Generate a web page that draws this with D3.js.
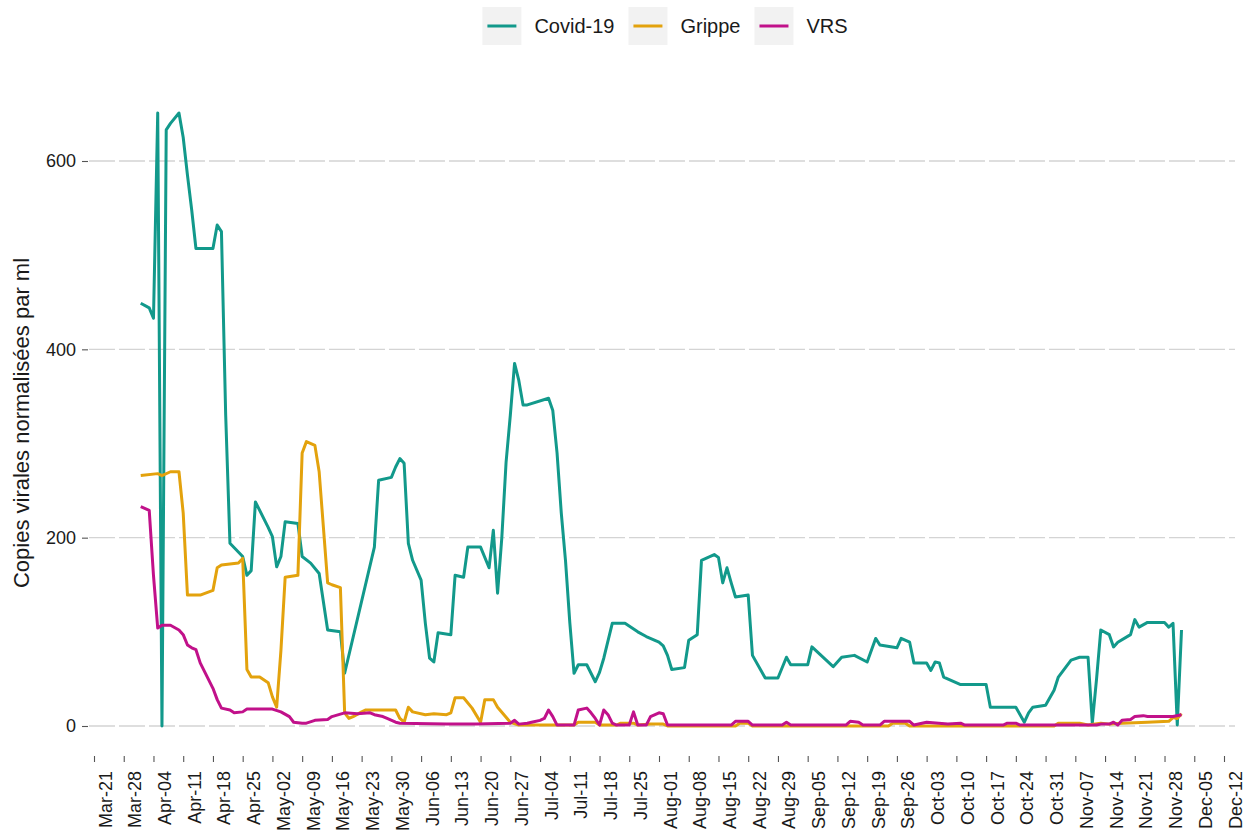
<!DOCTYPE html>
<html lang="fr">
<head>
<meta charset="utf-8">
<title>Copies virales</title>
<script src="https://cdnjs.cloudflare.com/ajax/libs/d3/7.8.5/d3.min.js"></script>
<style>
  body { margin: 0; background: #fff; font-family: "Liberation Sans", Arial, sans-serif; }
  svg { display: block; }
</style>
</head>
<body>
<script>
// valeurs (année 2022, données journalières)
var covid = [["04-01",449],["04-03",444],["04-04",433],["04-05",651],["04-06",0],["04-07",633],["04-08",640],["04-10",651],["04-11",625],["04-12",585],["04-13",548],["04-14",507],["04-18",507],["04-19",532],["04-20",525],["04-21",330],["04-22",194],["04-25",180],["04-26",160],["04-27",165],["04-28",238],["05-01",211],["05-02",201],["05-03",169],["05-04",180],["05-05",217],["05-08",215],["05-09",180],["05-11",173],["05-13",162],["05-15",102],["05-18",100],["05-19",56],["05-26",190],["05-27",261],["05-30",264],["05-31",275],["06-01",284],["06-02",279],["06-03",194],["06-04",176],["06-06",155],["06-07",109],["06-08",72],["06-09",68],["06-10",99],["06-13",97],["06-14",160],["06-16",158],["06-17",190],["06-20",190],["06-22",168],["06-23",208],["06-24",141],["06-25",200],["06-26",280],["06-27",330],["06-28",385],["06-29",367],["06-30",341],["07-01",341],["07-06",348],["07-07",335],["07-08",290],["07-09",226],["07-10",175],["07-11",110],["07-12",56],["07-13",65],["07-15",65],["07-17",47],["07-18",57],["07-19",72],["07-21",109],["07-24",109],["07-27",100],["07-29",95],["08-01",89],["08-02",85],["08-03",75],["08-04",60],["08-07",62],["08-08",91],["08-10",97],["08-11",176],["08-14",182],["08-15",179],["08-16",152],["08-17",168],["08-18",152],["08-19",137],["08-22",139],["08-23",75],["08-26",51],["08-29",51],["08-31",73],["09-01",65],["09-05",65],["09-06",84],["09-11",63],["09-13",73],["09-16",75],["09-19",68],["09-21",93],["09-22",86],["09-26",83],["09-27",93],["09-29",89],["09-30",67],["10-03",67],["10-04",59],["10-05",68],["10-06",67],["10-07",52],["10-11",44],["10-17",44],["10-18",20],["10-24",20],["10-26",4],["10-27",14],["10-28",20],["10-31",22],["11-02",38],["11-03",52],["11-06",70],["11-08",73],["11-10",73],["11-11",3],["11-12",50],["11-13",102],["11-15",97],["11-16",84],["11-17",89],["11-20",97],["11-21",113],["11-22",105],["11-24",110],["11-28",110],["11-29",105],["11-30",109],["12-01",1],["12-02",102]];

var grippe = [["04-01",266],["04-05",268],["04-06",266],["04-08",270],["04-10",270],["04-11",226],["04-12",139],["04-15",139],["04-18",144],["04-19",168],["04-20",171],["04-24",173],["04-25",178],["04-26",60],["04-27",52],["04-29",52],["05-01",46],["05-02",31],["05-03",20],["05-04",80],["05-05",158],["05-08",160],["05-09",290],["05-10",302],["05-12",298],["05-13",270],["05-15",152],["05-16",150],["05-18",147],["05-19",14],["05-20",8],["05-21",10],["05-23",15],["05-24",17],["05-31",17],["06-01",8],["06-02",4],["06-03",20],["06-04",15],["06-07",12],["06-09",13],["06-12",12],["06-13",14],["06-14",30],["06-16",30],["06-18",19],["06-20",4],["06-21",28],["06-23",28],["06-24",20],["06-27",4],["06-29",1],["07-12",1],["07-13",4],["07-17",4],["07-18",1],["07-22",1],["07-23",3],["07-26",3],["07-27",1],["07-30",2],["08-02",2],["08-03",0],["08-19",0],["08-20",3],["08-22",3],["08-23",0],["09-24",0],["09-25",3],["09-28",3],["09-29",0],["11-02",0],["11-03",3],["11-08",3],["11-10",1],["11-13",3],["11-15",2],["11-18",3],["11-24",4],["11-29",5],["11-30",9],["12-01",8],["12-02",13]];

var vrs = [["04-01",233],["04-03",229],["04-04",160],["04-05",104],["04-06",107],["04-08",107],["04-10",102],["04-11",97],["04-12",86],["04-13",83],["04-14",81],["04-15",67],["04-18",40],["04-19",28],["04-20",19],["04-22",17],["04-23",14],["04-25",15],["04-26",18],["05-02",18],["05-04",15],["05-06",10],["05-07",4],["05-09",3],["05-10",3],["05-12",6],["05-15",7],["05-16",10],["05-19",14],["05-22",13],["05-25",14],["05-26",12],["05-28",10],["05-29",8],["05-31",4],["06-01",3],["06-12",2],["06-19",2],["06-27",3],["06-28",6],["06-29",2],["07-01",3],["07-02",4],["07-04",6],["07-05",8],["07-06",17],["07-07",10],["07-08",1],["07-12",1],["07-13",17],["07-15",19],["07-16",14],["07-17",8],["07-18",1],["07-19",17],["07-20",12],["07-21",3],["07-22",1],["07-25",1],["07-26",15],["07-27",1],["07-29",1],["07-30",10],["08-01",14],["08-02",13],["08-03",1],["08-18",1],["08-19",5],["08-22",5],["08-23",1],["08-30",1],["08-31",4],["09-01",1],["09-14",1],["09-15",5],["09-17",4],["09-18",1],["09-22",1],["09-23",5],["09-29",5],["09-30",1],["10-03",4],["10-08",2],["10-11",3],["10-12",1],["10-21",1],["10-22",3],["10-24",3],["10-25",1],["11-12",1],["11-13",2],["11-15",2],["11-16",4],["11-17",1],["11-18",6],["11-20",7],["11-21",10],["11-23",11],["11-24",10],["11-28",10],["11-30",10],["12-02",12]];

var seriesNames = ["Covid-19", "Grippe", "VRS"];
var seriesColors = ["#12998b", "#e3a20d", "#c1118a"];
var yTicks = [0, 200, 400, 600];
var yTitle = "Copies virales normalisées par ml";
var year = "2022";

// canevas
var W = 1250, H = 835;
var panel = {left: 89, right: 1235, top: 81, bottom: 757};

var svg = d3.select("body").append("svg")
  .attr("width", W)
  .attr("height", H);

var parse = d3.timeParse("%Y-%m-%d");
function prep(arr) {
  return arr.map(function(d) { return {date: parse(year + "-" + d[0]), v: d[1]}; });
}
var data = [prep(covid), prep(grippe), prep(vrs)];

// échelles
var xScale = d3.scaleTime()
  .domain([parse(year + "-03-21"), parse(year + "-12-12")])
  .range([94, 1224]);
var yScale = d3.scaleLinear()
  .domain([0, 600])
  .range([726, 161]);

// grille horizontale en tirets
svg.append("g").selectAll("line")
  .data(yTicks)
  .enter().append("line")
  .attr("x1", panel.left).attr("x2", panel.right)
  .attr("y1", function(d) { return yScale(d); })
  .attr("y2", function(d) { return yScale(d); })
  .attr("stroke", "#d4d4d4")
  .attr("stroke-width", 1.4)
  .attr("stroke-dasharray", "26,4");

// axe y
var yAxis = d3.axisLeft(yScale).tickValues(yTicks).tickSize(6).tickPadding(6);
var gy = svg.append("g")
  .attr("transform", "translate(" + (panel.left - 1) + ",0)")
  .call(yAxis);
gy.select(".domain").remove();
gy.selectAll(".tick line").attr("stroke", "#555").attr("stroke-width", 1.1);
gy.selectAll(".tick text")
  .attr("fill", "#1a1a1a")
  .style("font-family", "'Liberation Sans', Arial, sans-serif")
  .style("font-size", "18px");

// axe x : une graduation par semaine
var xTicks = d3.timeDay.range(parse(year + "-03-21"), parse(year + "-12-13"), 7);
var fmt = d3.timeFormat("%b-%d");
var xAxis = d3.axisBottom(xScale).tickValues(xTicks).tickFormat(fmt).tickSize(6);
var gx = svg.append("g")
  .attr("transform", "translate(0," + (panel.bottom - 1) + ")")
  .call(xAxis);
gx.select(".domain").remove();
gx.selectAll(".tick line").attr("stroke", "#555").attr("stroke-width", 1.1);
gx.selectAll(".tick text")
  .attr("fill", "#1a1a1a")
  .attr("y", 0).attr("dy", 0)
  .attr("transform", "translate(17,15) rotate(-90)")
  .attr("text-anchor", "end")
  .style("font-family", "'Liberation Sans', Arial, sans-serif")
  .style("font-size", "18px");

// titre de l'axe y
svg.append("text")
  .attr("transform", "translate(29," + ((panel.top + panel.bottom) / 2 + 4) + ") rotate(-90)")
  .attr("text-anchor", "middle")
  .attr("fill", "#1a1a1a")
  .style("font-size", "22px")
  .text(yTitle);

// courbes
var line = d3.line()
  .x(function(d) { return xScale(d.date); })
  .y(function(d) { return yScale(d.v); });

svg.append("g").selectAll("path")
  .data(data)
  .enter().append("path")
  .attr("d", line)
  .attr("fill", "none")
  .attr("stroke", function(d, i) { return seriesColors[i]; })
  .attr("stroke-width", 3)
  .attr("stroke-linejoin", "round");

// légende en haut
var legend = svg.append("g");
var lx = 0;
seriesNames.forEach(function(name, i) {
  var g = legend.append("g").attr("transform", "translate(" + lx + ",0)");
  g.append("rect")
    .attr("x", 0).attr("y", 7)
    .attr("width", 39).attr("height", 38)
    .attr("fill", "#f2f2f2");
  g.append("line")
    .attr("x1", 5).attr("x2", 34)
    .attr("y1", 26).attr("y2", 26)
    .attr("stroke", seriesColors[i])
    .attr("stroke-width", 3);
  var t = g.append("text")
    .attr("x", 52).attr("y", 33)
    .attr("fill", "#1a1a1a")
    .style("font-size", "20px")
    .text(name);
  lx += 52 + t.node().getComputedTextLength() + 14;
});
var lw = lx - 14;
legend.attr("transform", "translate(" + (665 - lw / 2) + ",0)");
</script>
</body>
</html>
